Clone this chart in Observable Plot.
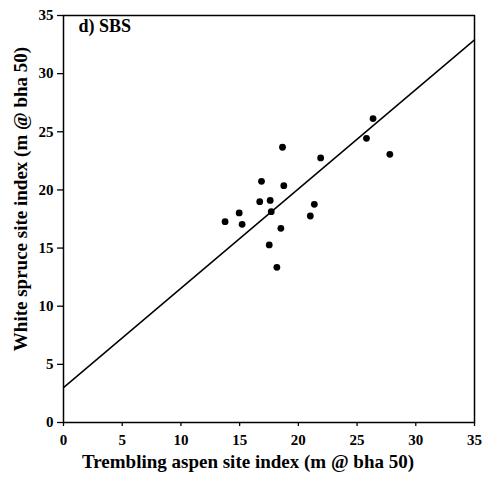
<!DOCTYPE html>
<html>
<head>
<meta charset="utf-8">
<script src="https://cdn.jsdelivr.net/npm/d3@7"></script>
<script src="https://cdn.jsdelivr.net/npm/@observablehq/plot@0.6"></script>
<style>
  body { margin: 0; background: #fff; }
  svg { font-family: "Liberation Serif", "DejaVu Serif", serif; }
</style>
</head>
<body>
<div id="chart"></div>
<script>
const aspenSI = [18.65, 21.9, 16.86, 18.76, 16.71, 17.6, 21.36, 14.96, 17.69, 21.02, 13.76, 15.21, 18.51, 17.52, 18.17, 26.36, 25.8, 27.79];
const spruceSI = [23.67, 22.75, 20.74, 20.37, 18.99, 19.1, 18.76, 18.02, 18.13, 17.76, 17.27, 17.04, 16.7, 15.27, 13.34, 26.14, 24.44, 23.06];
const lineX = [0, 35];
const lineY = [3.0, 32.9];
const ticks = [0, 5, 10, 15, 20, 25, 30, 35];
const panelTitle = "d) SBS";
const xLabel = "Trembling aspen site index (m @ bha 50)";
const yLabel = "White spruce site index (m @ bha 50)";

const points = aspenSI.map((x, i) => ({x, y: spruceSI[i]}));
const fitLine = lineX.map((x, i) => ({x, y: lineY[i]}));

const chart = Plot.plot({
  width: 489,
  height: 480,
  marginLeft: 63,
  marginRight: 15,
  marginTop: 15,
  marginBottom: 58,
  style: {fontFamily: "Liberation Serif", fontSize: "15px", fontWeight: "bold", background: "#fff", color: "#000"},
  x: {domain: [0, 35], ticks: ticks, label: null},
  y: {domain: [0, 35], ticks: ticks, label: null},
  marks: [
    Plot.axisX({ticks: ticks, tickSize: 4, tickPadding: 8, label: null, fontSize: 15, fontWeight: "bold", strokeWidth: 1.3}),
    Plot.axisY({ticks: ticks, tickSize: 6, tickPadding: 4, label: null, fontSize: 15, fontWeight: "bold", strokeWidth: 1.3}),
    Plot.frame({stroke: "#000", strokeWidth: 1.5}),
    Plot.line(fitLine, {x: "x", y: "y", stroke: "#000", strokeWidth: 1.5}),
    Plot.dot(points, {x: "x", y: "y", r: 3.4, fill: "#000", stroke: "none"}),
    Plot.text([panelTitle], {frameAnchor: "top-left", dx: 15, dy: 4, textAnchor: "start", lineAnchor: "top", fontSize: 18, fontWeight: "bold", fill: "#000"}),
    Plot.text([xLabel], {frameAnchor: "bottom", textAnchor: "middle", dx: -21, dy: 45, lineAnchor: "bottom", fontSize: 19, fontWeight: "bold", fill: "#000"}),
    Plot.text([yLabel], {frameAnchor: "left", textAnchor: "middle", rotate: -90, dx: -43, dy: -20, lineAnchor: "middle", fontSize: 19, fontWeight: "bold", fill: "#000"})
  ]
});
document.getElementById("chart").appendChild(chart);
</script>
</body>
</html>
